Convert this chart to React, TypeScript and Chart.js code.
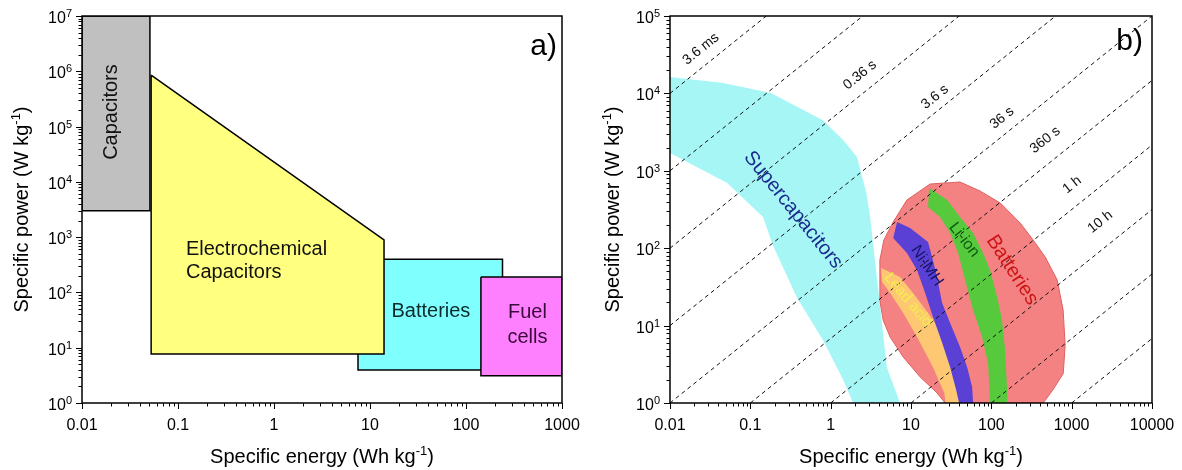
import React, { useEffect, useRef } from "react";
import { Chart, registerables } from "chart.js";

Chart.register(...registerables);

const FONT = '"Liberation Sans", Arial, Helvetica, sans-serif';

// ================= Panel a =================
const aXTickValues = [0.01, 0.1, 1, 10, 100, 1000];
const aXTickLabels = ["0.01", "0.1", "1", "10", "100", "1000"];
const aYTickExponents = [0, 1, 2, 3, 4, 5, 6, 7];

const capacitorsE = [0.01, 0.051, 0.051, 0.01];
const capacitorsP = [1e7, 1e7, 3000, 3000];
const electroCapE = [0.0525, 14, 14, 0.0525];
const electroCapP = [8.5e5, 890, 7.7, 7.7];
const batteriesAE = [7.5, 240, 240, 7.5];
const batteriesAP = [400, 400, 3.95, 3.95];
const fuelCellsE = [143, 1000, 1000, 143];
const fuelCellsP = [190, 190, 3.1, 3.1];

// ================= Panel b =================
const bXTickValues = [0.01, 0.1, 1, 10, 100, 1000, 10000];
const bXTickLabels = ["0.01", "0.1", "1", "10", "100", "1000", "10000"];
const bYTickExponents = [0, 1, 2, 3, 4, 5];

const superCapE = [0.01, 0.046, 0.18, 0.8, 1.43, 2.13, 2.8, 3.1, 5.0, 7.3, 1.9, 1.43, 0.8, 0.38, 0.19, 0.144, 0.051, 0.01];
const superCapP = [16300, 13600, 10100, 4500, 2500, 1510, 500, 253, 2.9, 1, 1, 2, 6.5, 23, 110, 253, 700, 1700];

const batteriesBE = [26.6, 21.1, 13, 8.0, 5.5, 4.5, 4.1, 4.1, 4.6, 6.0, 8.9, 17.3, 40.8, 72, 129, 229, 331, 468, 660, 783, 830, 785, 590, 442];
const batteriesBP = [1, 1.35, 2.17, 3.93, 7.1, 11.8, 21, 70.5, 128, 218, 420, 675, 716, 550, 384, 211, 128, 77, 39, 15.9, 5.6, 2.4, 1.5, 1];

const leadAcidE = [4.24, 7.3, 10.6, 16.3, 23, 30.7, 38.6, 40, 27, 26, 18.8, 11.9, 8.0, 5.5, 4.36];
const leadAcidP = [55.5, 42.5, 26.4, 14.5, 8.8, 3.6, 1.35, 1, 1, 1.35, 2.9, 7.1, 14.5, 26.4, 36.6];

const niMHE = [6.71, 9.75, 16.3, 18.3, 21.1, 24.4, 30.7, 40.8, 50, 57.7, 59.3, 39.7, 36.5, 30.7, 24.4, 18.8, 15, 11.9, 8.9, 6.0];
const niMHP = [218, 182, 120, 77, 42.5, 19.6, 10.8, 5.3, 2.9, 1.61, 1, 1, 1.47, 2.9, 6, 12.9, 26.4, 52, 87, 135];

const liIonE = [16.8, 28.2, 40.8, 59.3, 79, 96.6, 118, 136, 148.5, 157, 157, 96.6, 91, 76.7, 59.3, 47.2, 38.6, 30.7, 23, 16.3];
const liIonP = [600, 420, 253, 157, 87, 52, 23.4, 11.8, 4.8, 1.47, 1, 1, 3.3, 7.1, 15.9, 38.8, 87, 157, 253, 340];

const timeLineStartE = [0.01, 0.01, 0.01, 0.01, 0.01, 0.1, 1, 10, 100, 1000];
const timeLineStartP = [1e4, 1e3, 1e2, 10, 1, 1, 1, 1, 1, 1];
const timeLineEndE = [0.158, 2.51, 39.8, 631, 10000, 10000, 10000, 10000, 10000, 10000];
const timeLineEndP = [1e5, 1e5, 1e5, 1e5, 1e5, 14700, 2150, 316, 46.4, 6.8];

const timeLabels = ["3.6 ms", "0.36 s", "3.6 s", "36 s", "360 s", "1 h", "10 h"];
const timeLabelLine = [0, 2, 3, 4, 5, 6, 7];
const timeLabelE = [0.0243, 2.32, 19.9, 136, 468, 1014, 2265];
const timeLabelP = [37500, 17300, 8980, 4810, 2500, 656, 218];

// ================= helpers =================
const closed = (xs: number[], ys: number[]) => {
  const p = xs.map((x, i) => ({ x, y: ys[i] }));
  return [...p, p[0]];
};

const shape = (data: any, fill: string, border: string, bw: number, order: number) => ({
  data,
  showLine: true,
  fill: "shape",
  backgroundColor: fill,
  borderColor: border,
  borderWidth: bw,
  pointRadius: 0,
  pointHoverRadius: 0,
  tension: 0,
  order,
});

type Part = { t: string; sup?: boolean };
function drawRich(ctx: CanvasRenderingContext2D, parts: Part[], x: number, y: number, align: string, size: number, supSize: number, rise: number, rot: number) {
  ctx.save();
  ctx.translate(x, y);
  ctx.rotate(rot);
  const widths = parts.map((p) => {
    ctx.font = `${p.sup ? supSize : size}px ${FONT}`;
    return ctx.measureText(p.t).width;
  });
  const total = widths.reduce((a, b) => a + b, 0);
  let cx = align === "left" ? 0 : align === "center" ? -total / 2 : -total;
  ctx.fillStyle = "#000";
  ctx.textAlign = "left";
  ctx.textBaseline = "alphabetic";
  parts.forEach((p, i) => {
    ctx.font = `${p.sup ? supSize : size}px ${FONT}`;
    ctx.fillText(p.t, cx, p.sup ? -rise : 0);
    cx += widths[i];
  });
  ctx.restore();
}

const ragoneAxes = {
  id: "ragoneAxes",
  afterDraw(chart: any, _a: any, o: any) {
    const { ctx, chartArea: ca, scales } = chart;
    const xs = scales.x;
    const ys = scales.y;
    ctx.save();
    ctx.strokeStyle = "#000";
    ctx.lineWidth = 1.5;
    ctx.strokeRect(ca.left, ca.top, ca.right - ca.left, ca.bottom - ca.top);
    ctx.lineWidth = 1;
    const ticks = (scale: any, horizontal: boolean) => {
      const lo = Math.log10(scale.min);
      const hi = Math.log10(scale.max);
      for (let d = Math.floor(lo); d <= Math.ceil(hi); d++) {
        for (let m = 1; m <= 9; m++) {
          const v = m * Math.pow(10, d);
          const lv = Math.log10(v);
          if (lv < lo - 1e-9 || lv > hi + 1e-9) continue;
          const len = m === 1 ? 6 : 3.5;
          const p = Math.round(scale.getPixelForValue(v)) + 0.5;
          ctx.beginPath();
          if (horizontal) {
            ctx.moveTo(p, ca.bottom);
            ctx.lineTo(p, ca.bottom + len);
          } else {
            ctx.moveTo(ca.left, p);
            ctx.lineTo(ca.left - len, p);
          }
          ctx.stroke();
        }
      }
    };
    ticks(xs, true);
    ticks(ys, false);
    ctx.fillStyle = "#000";
    ctx.font = `16px ${FONT}`;
    ctx.textAlign = "center";
    ctx.textBaseline = "alphabetic";
    o.xTicks.forEach((v: number, i: number) => {
      ctx.fillText(o.xLabels[i], xs.getPixelForValue(v), ca.bottom + 27);
    });
    o.yExps.forEach((e: number) => {
      const py = ys.getPixelForValue(Math.pow(10, e));
      drawRich(ctx, [{ t: "10" }, { t: String(e), sup: true }], ca.left - 10, py + 7, "right", 16, 11, 6, 0);
    });
    drawRich(ctx, [{ t: "Specific energy (Wh kg" }, { t: "-1", sup: true }, { t: ")" }], (ca.left + ca.right) / 2, 463, "center", 20, 13, 8, 0);
    drawRich(ctx, [{ t: "Specific power (W kg" }, { t: "-1", sup: true }, { t: ")" }], o.yTitleX, (ca.top + ca.bottom) / 2, "center", 20, 13, 8, -Math.PI / 2);
    ctx.font = `30px ${FONT}`;
    ctx.textAlign = "right";
    ctx.fillText(o.panel, o.panelX, o.panelY);
    ctx.restore();
  },
};

const ragoneLabels = {
  id: "ragoneLabels",
  afterDatasetsDraw(chart: any, _a: any, o: any) {
    const { ctx, scales } = chart;
    const xs = scales.x;
    const ys = scales.y;
    (o.items || []).forEach((it: any) => {
      const px = xs.getPixelForValue(it.e);
      const py = ys.getPixelForValue(it.p);
      let rot = ((it.rot || 0) * Math.PI) / 180;
      if (it.line != null) {
        const d = chart.data.datasets[it.line].data;
        const a = d[0];
        const b = d[d.length - 1];
        rot = Math.atan2(ys.getPixelForValue(b.y) - ys.getPixelForValue(a.y), xs.getPixelForValue(b.x) - xs.getPixelForValue(a.x));
      }
      ctx.save();
      ctx.translate(px, py);
      ctx.rotate(rot);
      ctx.font = `${it.size}px ${FONT}`;
      ctx.fillStyle = it.color;
      ctx.textAlign = it.align || "center";
      ctx.textBaseline = it.baseline || "middle";
      ctx.fillText(it.text, 0, 0);
      ctx.restore();
    });
  },
};

function baseOptions(xMax: number, yMax: number, yWidth: number, rightPad: number, axes: any, labels: any) {
  return {
    responsive: false,
    animation: false,
    devicePixelRatio: 1,
    events: [],
    layout: { padding: { left: 0, right: rightPad, top: 16, bottom: 0 } },
    plugins: {
      legend: { display: false },
      tooltip: { enabled: false },
      ragoneAxes: axes,
      ragoneLabels: labels,
    },
    scales: {
      x: {
        type: "logarithmic",
        min: 0.01,
        max: xMax,
        ticks: { display: false },
        grid: { display: false },
        border: { display: false },
        afterFit: (s: any) => {
          s.height = 67;
        },
      },
      y: {
        type: "logarithmic",
        min: 1,
        max: yMax,
        ticks: { display: false },
        grid: { display: false },
        border: { display: false },
        afterFit: (s: any) => {
          s.width = yWidth;
        },
      },
    },
  };
}

function configA(): any {
  const datasets = [
    shape(closed(capacitorsE, capacitorsP), "#c0c0c0", "#000", 1.5, 4),
    shape(closed(batteriesAE, batteriesAP), "#80ffff", "#000", 1.5, 3),
    shape(closed(electroCapE, electroCapP), "#ffff80", "#000", 1.5, 2),
    shape(closed(fuelCellsE, fuelCellsP), "#ff80ff", "#000", 1.5, 1),
  ];
  const items = [
    { text: "Capacitors", e: 0.0232, p: 1.83e5, rot: -90, size: 20, color: "#111", baseline: "alphabetic" },
    { text: "Electrochemical", e: 0.121, p: 475, size: 20, color: "#111", align: "left", baseline: "alphabetic" },
    { text: "Capacitors", e: 0.121, p: 182, size: 20, color: "#111", align: "left", baseline: "alphabetic" },
    { text: "Batteries", e: 43.1, p: 35.9, size: 20, color: "#0a2a2a", baseline: "alphabetic" },
    { text: "Fuel", e: 437, p: 34.4, size: 20, color: "#3a0a3a", baseline: "alphabetic" },
    { text: "cells", e: 437, p: 12.2, size: 20, color: "#3a0a3a", baseline: "alphabetic" },
  ];
  return {
    type: "scatter",
    data: { datasets },
    options: baseOptions(1000, 1e7, 82, 23, {
      xTicks: aXTickValues,
      xLabels: aXTickLabels,
      yExps: aYTickExponents,
      yTitleX: 28,
      panel: "a)",
      panelX: 557,
      panelY: 55,
    }, { items }),
    plugins: [ragoneAxes, ragoneLabels],
  };
}

function configB(): any {
  const shapes = [
    shape(closed(superCapE, superCapP), "#a6f6f6", "rgba(0,0,0,0)", 0, 20),
    shape(closed(batteriesBE, batteriesBP), "#f58282", "#dd6060", 1, 19),
    shape(closed(leadAcidE, leadAcidP), "#fec872", "rgba(0,0,0,0)", 0, 18),
    shape(closed(niMHE, niMHP), "#5b40d6", "rgba(0,0,0,0)", 0, 17),
    shape(closed(liIonE, liIonP), "#56c93c", "rgba(0,0,0,0)", 0, 16),
  ];
  const lineOffset = shapes.length;
  const lines = timeLineStartE.map((e, i) => ({
    data: [
      { x: e, y: timeLineStartP[i] },
      { x: timeLineEndE[i], y: timeLineEndP[i] },
    ],
    showLine: true,
    fill: false,
    borderColor: "#111",
    borderWidth: 1,
    borderDash: [4, 3.5],
    pointRadius: 0,
    pointHoverRadius: 0,
    order: 1,
  }));
  const items: any[] = timeLabels.map((t, i) => ({
    text: t,
    e: timeLabelE[i],
    p: timeLabelP[i],
    line: lineOffset + timeLabelLine[i],
    size: 14,
    color: "#111",
  }));
  items.push(
    { text: "Supercapacitors", e: 0.34, p: 312, rot: 51, size: 20, color: "#1c2c8c" },
    { text: "Batteries", e: 181, p: 52.3, rot: 57, size: 20, color: "#cc1515" },
    { text: "Li-ion", e: 45.8, p: 128, rot: 52, size: 16, color: "#0c5c10" },
    { text: "Ni-MH", e: 15.8, p: 59, rot: 56, size: 16, color: "#141466" },
    { text: "Lead acid", e: 9.2, p: 21.4, rot: 50, size: 15, color: "#f4ee50" }
  );
  return {
    type: "scatter",
    data: { datasets: [...shapes, ...lines] },
    options: baseOptions(10000, 1e5, 80, 30, {
      xTicks: bXTickValues,
      xLabels: bXTickLabels,
      yExps: bYTickExponents,
      yTitleX: 29,
      panel: "b)",
      panelX: 553,
      panelY: 50,
    }, { items }),
    plugins: [ragoneAxes, ragoneLabels],
  };
}

export default function App() {
  const refA = useRef<HTMLCanvasElement>(null);
  const refB = useRef<HTMLCanvasElement>(null);
  useEffect(() => {
    document.body.style.margin = "0";
    const ca = new Chart(refA.current as HTMLCanvasElement, configA());
    const cb = new Chart(refB.current as HTMLCanvasElement, configB());
    return () => {
      ca.destroy();
      cb.destroy();
    };
  }, []);
  return (
    <div style={{ position: "relative", width: 1182, height: 470, background: "#fff", overflow: "hidden" }}>
      <canvas ref={refA} width={585} height={470} style={{ position: "absolute", left: 0, top: 0, width: 585, height: 470 }} />
      <canvas ref={refB} width={592} height={470} style={{ position: "absolute", left: 590, top: 0, width: 592, height: 470 }} />
    </div>
  );
}
